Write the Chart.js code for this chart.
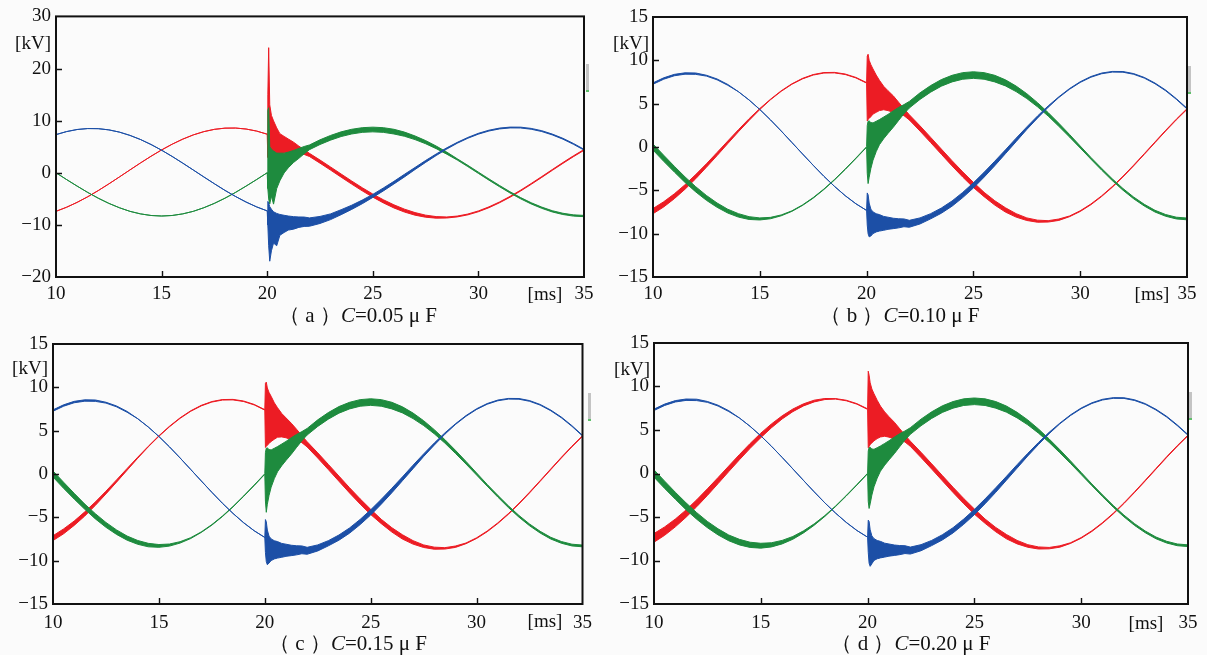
<!DOCTYPE html>
<html><head><meta charset="utf-8">
<script src="https://cdn.jsdelivr.net/npm/chart.js@4.4.1/dist/chart.umd.min.js"></script>
<style>
html,body{margin:0;padding:0;background:#fbfbfb;width:1207px;height:655px;overflow:hidden;font-family:'Liberation Serif','DejaVu Serif',serif;color:#111;}
.pane{position:absolute;}
.lbl{position:absolute;font-size:19px;line-height:1;white-space:nowrap;transform:translateY(-50%);}
.cap{position:absolute;font-size:21px;line-height:1;white-space:nowrap;transform:translate(-50%,-50%);}
.scan{position:absolute;width:3px;height:26px;background:#c4c4c4;border-bottom:2px solid #5fbf6a;}
</style></head><body>
<script>
// ---------- DATA ----------
const TIME_MS = [10,10.5,11,11.5,12,12.5,13,13.5,14,14.5,15,15.5,16,16.5,17,17.5,18,18.5,19,19.5,20,
 20.03,20.07,20.12,20.2,20.3,20.45,20.6,20.8,21,21.25,21.5,21.75,
 22,22.5,23,23.5,24,24.5,25,25.5,26,26.5,27,27.5,28,28.5,29,29.5,30,30.5,31,31.5,32,32.5,33,33.5,34,34.5,35];

// centre line of each phase [kV]
const RED_MID = [-7.40,-6.62,-5.68,-4.61,-3.42,-2.14,-0.81,0.54,1.88,3.17,4.38,5.48,6.45,7.26,7.89,8.33,8.56,8.58,8.39,8.00,7.40,
 7.36,7.30,7.23,7.11,6.96,6.71,6.45,6.08,5.68,5.16,4.61,4.02,
 3.42,2.14,0.81,-0.54,-1.88,-3.17,-4.38,-5.48,-6.45,-7.26,-7.89,-8.33,-8.56,-8.58,-8.39,-8.00,-7.40,-6.62,-5.68,-4.61,-3.42,-2.14,-0.81,0.54,1.88,3.17,4.38];
const GREEN_MID = [0,-1.30,-2.56,-3.77,-4.88,-5.87,-6.71,-7.40,-7.89,-8.20,-8.30,-8.20,-7.89,-7.40,-6.71,-5.87,-4.88,-3.77,-2.56,-1.30,0,
 0.08,0.18,0.31,0.52,0.78,1.17,1.56,2.06,2.56,3.18,3.77,4.34,
 4.88,5.87,6.71,7.40,7.89,8.20,8.30,8.20,7.89,7.40,6.71,5.87,4.88,3.77,2.56,1.30,0,-1.30,-2.56,-3.77,-4.88,-5.87,-6.71,-7.40,-7.89,-8.20,-8.30];
const BLUE_MID = [7.32,7.90,8.30,8.48,8.46,8.23,7.80,7.17,6.38,5.42,4.33,3.13,1.85,0.53,-0.80,-2.11,-3.38,-4.55,-5.62,-6.55,-7.32,
 -7.36,-7.41,-7.47,-7.57,-7.69,-7.85,-8.00,-8.16,-8.30,-8.42,-8.48,-8.50,
 -8.66,-8.43,-7.99,-7.34,-6.53,-5.54,-4.43,-3.20,-1.90,-0.55,0.82,2.17,3.45,4.66,5.75,6.70,7.49,8.09,8.49,8.68,8.67,8.43,7.99,7.34,6.53,5.54,4.43];

// extent of the oscillation band above (UP) and below (DN) the centre line [kV]
// (a) C=0.05 uF
const A_RED_UP = [0,0,0,0,0,0,0,0,0,0,0,0,0,0,0,0,0,0,0,0,0,
 7.6,16.7,5.8,3.9,3.0,1.9,1.05,0.9,0.8,0.7,0.5,0.4,
 0.3,0.3,0.3,0.3,0.3,0.3,0.3,0.3,0.3,0.28,0.25,0.2,0.15,0.1,0.08,0.08,0.08,0.08,0.08,0.08,0.08,0.08,0.08,0.08,0.08,0.08,0.08];
const A_RED_DN = [0,0,0,0,0,0,0,0,0,0,0,0,0,0,0,0,0,0,0,0,0,
 4.4,4.1,4.2,3.9,3.7,3.3,2.85,2.3,1.8,1.2,0.7,0.5,
 0.3,0.3,0.3,0.3,0.3,0.3,0.3,0.3,0.3,0.28,0.25,0.2,0.15,0.1,0.08,0.08,0.08,0.08,0.08,0.08,0.08,0.08,0.08,0.08,0.08,0.08,0.08];
const A_GREEN_UP = [0,0,0,0,0,0,0,0,0,0,0,0,0,0,0,0,0,0,0,0,0,
 11.9,12.3,4.7,4.0,3.4,2.6,2.2,1.7,1.4,1.1,0.9,0.7,
 0.45,0.45,0.45,0.45,0.45,0.45,0.45,0.45,0.45,0.4,0.35,0.3,0.25,0.2,0.12,0.12,0.12,0.12,0.12,0.12,0.12,0.12,0.12,0.12,0.12,0.12,0.12];
const A_GREEN_DN = [0,0,0,0,0,0,0,0,0,0,0,0,0,0,0,0,0,0,0,0,0,
 3.1,5.2,6.3,5.0,6.8,4.2,3.1,2.1,1.6,1.2,1.0,0.7,
 0.45,0.45,0.45,0.45,0.45,0.45,0.45,0.45,0.45,0.4,0.35,0.3,0.25,0.2,0.12,0.12,0.12,0.12,0.12,0.12,0.12,0.12,0.12,0.12,0.12,0.12,0.12];
const A_BLUE_UP = [0,0,0,0,0,0,0,0,0,0,0,0,0,0,0,0,0,0,0,0,0,
 1.86,1.6,0.97,0.57,0.2,0.05,0,0,0,0,0,0,
 0,0.05,0.1,0.25,0.3,0.3,0.28,0.28,0.25,0.25,0.2,0.18,0.15,0.12,0.08,0.08,0.08,0.08,0.08,0.08,0.08,0.08,0.08,0.08,0.08,0.08,0.08];
const A_BLUE_DN = [0,0,0,0,0,0,0,0,0,0,0,0,0,0,0,0,0,0,0,0,0,
 2.64,6.6,9.5,7.4,5.8,6.15,4.0,3.3,2.7,2.4,2.0,1.8,
 1.6,1.3,1.0,0.7,0.5,0.4,0.3,0.28,0.25,0.25,0.2,0.18,0.15,0.12,0.08,0.08,0.08,0.08,0.08,0.08,0.08,0.08,0.08,0.08,0.08,0.08,0.08];

// (b) C=0.10 uF
const B_RED_UP = [0.3,0.3,0.28,0.26,0.24,0.2,0.18,0.15,0.12,0.1,0.06,0.03,0.03,0.03,0.03,0.03,0.03,0.03,0.03,0.03,0.03,
 3.14,3.4,2.77,2.39,2.04,1.59,1.25,0.92,0.82,0.74,0.55,0.4,
 0.3,0.3,0.3,0.3,0.3,0.3,0.3,0.25,0.25,0.25,0.2,0.15,0.12,0.08,0.08,0.04,0.04,0.04,0.04,0.04,0.04,0.04,0.04,0.04,0.04,0.04,0.04];
const B_RED_DN = [0.3,0.3,0.28,0.26,0.24,0.2,0.18,0.15,0.12,0.1,0.06,0.03,0.03,0.03,0.03,0.03,0.03,0.03,0.03,0.03,0.03,
 4.36,4.1,3.93,3.61,3.16,2.71,2.25,1.78,1.48,1.16,0.7,0.4,
 0.3,0.3,0.3,0.3,0.3,0.3,0.3,0.25,0.25,0.25,0.2,0.15,0.12,0.08,0.08,0.04,0.04,0.04,0.04,0.04,0.04,0.04,0.04,0.04,0.04,0.04,0.04];
const B_GREEN_UP = [0.35,0.35,0.33,0.32,0.3,0.28,0.25,0.22,0.2,0.16,0.12,0.08,0.05,0.03,0.03,0.03,0.03,0.03,0.03,0.03,0.03,
 2.4,2.8,2.7,2.3,2.0,1.8,1.6,1.4,1.2,1.0,0.8,0.55,
 0.38,0.38,0.38,0.38,0.38,0.38,0.38,0.38,0.38,0.35,0.32,0.28,0.24,0.2,0.18,0.15,0.12,0.1,0.1,0.1,0.1,0.1,0.1,0.1,0.1,0.1,0.1];
const B_GREEN_DN = [0.35,0.35,0.33,0.32,0.3,0.28,0.25,0.22,0.2,0.16,0.12,0.08,0.05,0.03,0.03,0.03,0.03,0.03,0.03,0.03,0.03,
 3.1,4.4,3.8,3.0,2.3,1.7,1.3,1.1,1.0,0.9,0.7,0.5,
 0.38,0.38,0.38,0.38,0.38,0.38,0.38,0.38,0.38,0.35,0.32,0.28,0.24,0.2,0.18,0.15,0.12,0.1,0.1,0.1,0.1,0.1,0.1,0.1,0.1,0.1,0.1];
const B_BLUE_UP = [0.08,0.08,0.08,0.08,0.08,0.05,0.05,0.05,0,0,0,0,0,0,0,0,0,0,0,0,0,
 2.06,1.9,1.0,0.4,0.2,0.15,0.2,0.15,0.2,0.2,0.2,0.2,
 0.2,0.25,0.3,0.3,0.3,0.3,0.3,0.28,0.26,0.22,0.2,0.15,0.12,0.08,0.04,0.04,0.04,0.04,0.04,0.04,0.04,0.04,0.04,0.04,0.04,0.04,0.04];
const B_BLUE_DN = [0.08,0.08,0.08,0.08,0.08,0.05,0.05,0.05,0,0,0,0,0,0,0,0,0,0,0,0,0,
 1.64,2.6,2.9,2.7,2.3,1.95,1.7,1.45,1.2,1.0,0.85,0.7,
 0.6,0.45,0.3,0.3,0.3,0.3,0.3,0.28,0.26,0.22,0.2,0.15,0.12,0.08,0.04,0.04,0.04,0.04,0.04,0.04,0.04,0.04,0.04,0.04,0.04,0.04,0.04];

// (c) C=0.15 uF
const C_RED_UP = [0.28,0.28,0.25,0.24,0.2,0.16,0.13,0.1,0.06,0.03,0.03,0.03,0.03,0.03,0.03,0.03,0.03,0.03,0.03,0.03,0.03,
 3.1,3.3,2.7,2.3,2.0,1.5,1.2,0.9,0.8,0.7,0.55,0.4,
 0.3,0.3,0.3,0.3,0.3,0.3,0.3,0.25,0.25,0.25,0.2,0.15,0.12,0.08,0.08,0.04,0.04,0.04,0.04,0.04,0.04,0.04,0.04,0.04,0.04,0.04,0.04];
const C_RED_DN = [0.28,0.28,0.25,0.24,0.2,0.16,0.13,0.1,0.06,0.03,0.03,0.03,0.03,0.03,0.03,0.03,0.03,0.03,0.03,0.03,0.03,
 4.3,4.1,3.9,3.6,3.2,2.7,2.2,1.8,1.5,1.2,0.7,0.4,
 0.3,0.3,0.3,0.3,0.3,0.3,0.3,0.25,0.25,0.25,0.2,0.15,0.12,0.08,0.08,0.04,0.04,0.04,0.04,0.04,0.04,0.04,0.04,0.04,0.04,0.04,0.04];
const C_GREEN_UP = [0.35,0.35,0.33,0.3,0.3,0.28,0.26,0.24,0.22,0.2,0.16,0.12,0.08,0.05,0.03,0.03,0.03,0.03,0.03,0.03,0.03,
 2.4,2.8,2.7,2.3,2.0,1.8,1.6,1.4,1.2,1.0,0.8,0.55,
 0.38,0.38,0.38,0.38,0.38,0.38,0.38,0.38,0.38,0.35,0.32,0.28,0.24,0.2,0.18,0.15,0.12,0.1,0.1,0.1,0.1,0.1,0.1,0.1,0.1,0.1,0.1];
const C_GREEN_DN = [0.35,0.35,0.33,0.3,0.3,0.28,0.26,0.24,0.22,0.2,0.16,0.12,0.08,0.05,0.03,0.03,0.03,0.03,0.03,0.03,0.03,
 3.2,4.6,3.8,3.0,2.3,1.7,1.3,1.1,1.0,0.9,0.7,0.5,
 0.38,0.38,0.38,0.38,0.38,0.38,0.38,0.38,0.38,0.35,0.32,0.28,0.24,0.2,0.18,0.15,0.12,0.1,0.1,0.1,0.1,0.1,0.1,0.1,0.1,0.1,0.1];
const C_BLUE_UP = [0.08,0.08,0.08,0.08,0.08,0.05,0.05,0.05,0,0,0,0,0,0,0,0,0,0,0,0,0,
 2.1,1.9,1.0,0.4,0.2,0.15,0.2,0.15,0.2,0.2,0.2,0.2,
 0.2,0.25,0.3,0.3,0.3,0.3,0.3,0.28,0.26,0.22,0.2,0.15,0.12,0.08,0.04,0.04,0.04,0.04,0.04,0.04,0.04,0.04,0.04,0.04,0.04,0.04,0.04];
const C_BLUE_DN = [0.08,0.08,0.08,0.08,0.08,0.05,0.05,0.05,0,0,0,0,0,0,0,0,0,0,0,0,0,
 1.7,2.7,3.0,2.7,2.3,1.95,1.7,1.45,1.2,1.0,0.85,0.7,
 0.6,0.45,0.3,0.3,0.3,0.3,0.3,0.28,0.26,0.22,0.2,0.15,0.12,0.08,0.04,0.04,0.04,0.04,0.04,0.04,0.04,0.04,0.04,0.04,0.04,0.04,0.04];

// (d) C=0.20 uF
const D_RED_UP = [0.5,0.48,0.45,0.42,0.4,0.38,0.35,0.32,0.3,0.28,0.26,0.22,0.18,0.15,0.12,0.1,0.06,0.03,0.03,0.03,0.03,
 4.4,4.0,3.2,2.6,2.2,1.7,1.3,1.0,0.85,0.74,0.55,0.4,
 0.3,0.3,0.3,0.3,0.3,0.3,0.3,0.25,0.25,0.25,0.2,0.15,0.12,0.08,0.08,0.04,0.04,0.04,0.04,0.04,0.04,0.04,0.04,0.04,0.04,0.04,0.04];
const D_RED_DN = [0.5,0.48,0.45,0.42,0.4,0.38,0.35,0.32,0.3,0.28,0.26,0.22,0.18,0.15,0.12,0.1,0.06,0.03,0.03,0.03,0.03,
 4.4,4.2,3.9,3.6,3.2,2.7,2.25,1.8,1.5,1.2,0.7,0.4,
 0.3,0.3,0.3,0.3,0.3,0.3,0.3,0.25,0.25,0.25,0.2,0.15,0.12,0.08,0.08,0.04,0.04,0.04,0.04,0.04,0.04,0.04,0.04,0.04,0.04,0.04,0.04];
const D_GREEN_UP = [0.42,0.42,0.4,0.4,0.38,0.36,0.35,0.33,0.32,0.3,0.28,0.24,0.2,0.16,0.12,0.08,0.05,0.03,0.03,0.03,0.03,
 2.5,2.8,2.7,2.3,2.0,1.8,1.6,1.4,1.2,1.0,0.8,0.55,
 0.38,0.38,0.38,0.38,0.38,0.38,0.38,0.38,0.38,0.35,0.32,0.28,0.24,0.2,0.18,0.15,0.12,0.1,0.1,0.1,0.1,0.1,0.1,0.1,0.1,0.1,0.1];
const D_GREEN_DN = [0.42,0.42,0.4,0.4,0.38,0.36,0.35,0.33,0.32,0.3,0.28,0.24,0.2,0.16,0.12,0.08,0.05,0.03,0.03,0.03,0.03,
 3.3,4.2,3.8,3.0,2.3,1.7,1.3,1.1,1.0,0.9,0.7,0.5,
 0.38,0.38,0.38,0.38,0.38,0.38,0.38,0.38,0.38,0.35,0.32,0.28,0.24,0.2,0.18,0.15,0.12,0.1,0.1,0.1,0.1,0.1,0.1,0.1,0.1,0.1,0.1];
const D_BLUE_UP = [0.08,0.08,0.08,0.08,0.08,0.05,0.05,0.05,0,0,0,0,0,0,0,0,0,0,0,0,0,
 2.0,1.9,1.0,0.4,0.2,0.15,0.2,0.15,0.2,0.2,0.2,0.2,
 0.2,0.25,0.3,0.3,0.3,0.3,0.3,0.28,0.26,0.22,0.2,0.15,0.12,0.08,0.04,0.04,0.04,0.04,0.04,0.04,0.04,0.04,0.04,0.04,0.04,0.04,0.04];
const D_BLUE_DN = [0.08,0.08,0.08,0.08,0.08,0.05,0.05,0.05,0,0,0,0,0,0,0,0,0,0,0,0,0,
 1.7,2.9,3.2,2.8,2.3,1.95,1.7,1.45,1.2,1.0,0.85,0.7,
 0.6,0.45,0.3,0.3,0.3,0.3,0.3,0.28,0.26,0.22,0.2,0.15,0.12,0.08,0.04,0.04,0.04,0.04,0.04,0.04,0.04,0.04,0.04,0.04,0.04,0.04,0.04];

const X_TICKS = [10,15,20,25,30,35];
const Y_TICKS_A = [-20,-10,0,10,20,30];
const Y_TICKS_BCD = [-15,-10,-5,0,5,10,15];
const CAPTION_LETTERS = ['a','b','c','d'];
const CAPTION_C = ['0.05','0.10','0.15','0.20'];
const UNIT_Y = '[kV]';
const UNIT_X = '[ms]';

// ---------- LAYOUT / STYLE ----------
const COLORS = {red:'#ec1c24', green:'#1e8b3e', blue:'#1c4fa6'};
const FONT = "'Liberation Serif','DejaVu Serif',serif";
const PANELS = [
 {box:[0,0,600,330], area:{l:56,r:584,t:15,b:277}, yt:Y_TICKS_A, xpad:6,
  dev:{red:[A_RED_UP,A_RED_DN],green:[A_GREEN_UP,A_GREEN_DN],blue:[A_BLUE_UP,A_BLUE_DN]},
  kv:[51,42], ms:[545,293], cap:[358,315], scan:[586,64]},
 {box:[600,0,607,330], area:{l:53,r:587,t:17,b:277}, yt:Y_TICKS_BCD, xpad:6,
  dev:{red:[B_RED_UP,B_RED_DN],green:[B_GREEN_UP,B_GREEN_DN],blue:[B_BLUE_UP,B_BLUE_DN]},
  kv:[649,42], ms:[1152,293], cap:[900,315], scan:[1188,66]},
 {box:[0,325,600,330], area:{l:53,r:586,t:19,b:279}, yt:Y_TICKS_BCD, xpad:8,
  dev:{red:[C_RED_UP,C_RED_DN],green:[C_GREEN_UP,C_GREEN_DN],blue:[C_BLUE_UP,C_BLUE_DN]},
  kv:[48,367], ms:[545,620], cap:[348,643], scan:[588,393]},
 {box:[600,325,607,330], area:{l:54,r:588,t:18,b:279}, yt:Y_TICKS_BCD, xpad:8,
  dev:{red:[D_RED_UP,D_RED_DN],green:[D_GREEN_UP,D_GREEN_DN],blue:[D_BLUE_UP,D_BLUE_DN]},
  kv:[650,368], ms:[1146,622], cap:[911,643], scan:[1189,392]}
];

const frameAndTicks = {
  id:'frameAndTicks',
  afterDatasetsDraw(chart){
    const {ctx, chartArea:a, scales:{x, y}} = chart;
    ctx.save();
    ctx.strokeStyle = '#111';
    ctx.lineWidth = 1.4;
    ctx.beginPath();
    x.ticks.forEach(t => {
      if (t.value <= x.min || t.value >= x.max) return;
      const px = Math.round(x.getPixelForValue(t.value)) + 0.5;
      ctx.moveTo(px, a.bottom); ctx.lineTo(px, a.bottom - 6);
    });
    y.ticks.forEach(t => {
      if (t.value <= y.min || t.value >= y.max) return;
      const py = Math.round(y.getPixelForValue(t.value)) + 0.5;
      ctx.moveTo(a.left, py); ctx.lineTo(a.left + 6, py);
    });
    ctx.stroke();
    ctx.lineWidth = 2;
    ctx.strokeRect(a.left, a.top, a.right - a.left, a.bottom - a.top);
    ctx.restore();
  }
};

const fmt = v => v < 0 ? '\u2212' + Math.abs(v) : String(v);

function band(mid, up, dn, color){
  const hi = TIME_MS.map((t,i) => ({x:t, y: mid[i] + up[i]}));
  const lo = TIME_MS.map((t,i) => ({x:t, y: mid[i] - dn[i]}));
  const base = {borderColor:color, backgroundColor:color, borderWidth:1, pointRadius:0, tension:0};
  return [Object.assign({data:hi, fill:'+1'}, base), Object.assign({data:lo, fill:false}, base)];
}

PANELS.forEach((p, k) => {
  const [L, T, W, H] = p.box;
  const wrap = document.createElement('div');
  wrap.className = 'pane';
  wrap.style.left = L + 'px'; wrap.style.top = T + 'px';
  const cv = document.createElement('canvas');
  cv.width = W; cv.height = H;
  cv.style.width = W + 'px'; cv.style.height = H + 'px';
  wrap.appendChild(cv);
  document.body.appendChild(wrap);
  const XH = 30;
  // drawing order: first dataset is painted last (on top): blue, green, red
  const datasets = [
    ...band(BLUE_MID, p.dev.blue[0], p.dev.blue[1], COLORS.blue),
    ...band(GREEN_MID, p.dev.green[0], p.dev.green[1], COLORS.green),
    ...band(RED_MID, p.dev.red[0], p.dev.red[1], COLORS.red)
  ];
  const yt = p.yt;
  new Chart(cv, {
    type:'line',
    data:{datasets},
    options:{
      responsive:false, animation:false, devicePixelRatio:1,
      normalized:true,
      layout:{padding:{left:0, top:p.area.t, right:W - p.area.r, bottom:H - p.area.b - XH}},
      plugins:{legend:{display:false}, tooltip:{enabled:false}},
      scales:{
        x:{type:'linear', min:X_TICKS[0], max:X_TICKS[X_TICKS.length-1],
           afterBuildTicks: s => { s.ticks = X_TICKS.map(v => ({value:v})); },
           afterFit: s => { s.height = XH; },
           grid:{display:false, drawTicks:false}, border:{display:false},
           ticks:{padding:p.xpad, color:'#111', font:{family:FONT, size:19}, maxRotation:0, autoSkip:false,
                  callback: v => fmt(v)}},
        y:{type:'linear', min:yt[0], max:yt[yt.length-1],
           afterBuildTicks: s => { s.ticks = yt.map(v => ({value:v})); },
           afterFit: s => { s.width = p.area.l; },
           grid:{display:false, drawTicks:false}, border:{display:false},
           ticks:{padding:5, color:'#111', font:{family:FONT, size:19}, autoSkip:false,
                  callback: v => fmt(v)}}
      }
    },
    plugins:[frameAndTicks]
  });

  const kv = document.createElement('div');
  kv.className = 'lbl'; kv.textContent = UNIT_Y;
  kv.style.right = (1207 - p.kv[0]) + 'px'; kv.style.top = p.kv[1] + 'px';
  document.body.appendChild(kv);
  const ms = document.createElement('div');
  ms.className = 'lbl'; ms.textContent = UNIT_X;
  ms.style.left = p.ms[0] + 'px'; ms.style.top = p.ms[1] + 'px';
  ms.style.transform = 'translate(-50%,-50%)';
  document.body.appendChild(ms);
  const cap = document.createElement('div');
  cap.className = 'cap';
  cap.innerHTML = '\uFF08 ' + CAPTION_LETTERS[k] + ' \uFF09<i>C</i>=' + CAPTION_C[k] + ' \u03BC F';
  cap.style.left = p.cap[0] + 'px'; cap.style.top = p.cap[1] + 'px';
  document.body.appendChild(cap);
  // small grey scan mark beside the right frame, as in the source picture
  const sc = document.createElement('div');
  sc.className = 'scan';
  sc.style.left = p.scan[0] + 'px'; sc.style.top = p.scan[1] + 'px';
  document.body.appendChild(sc);
});
</script>
</body></html>
